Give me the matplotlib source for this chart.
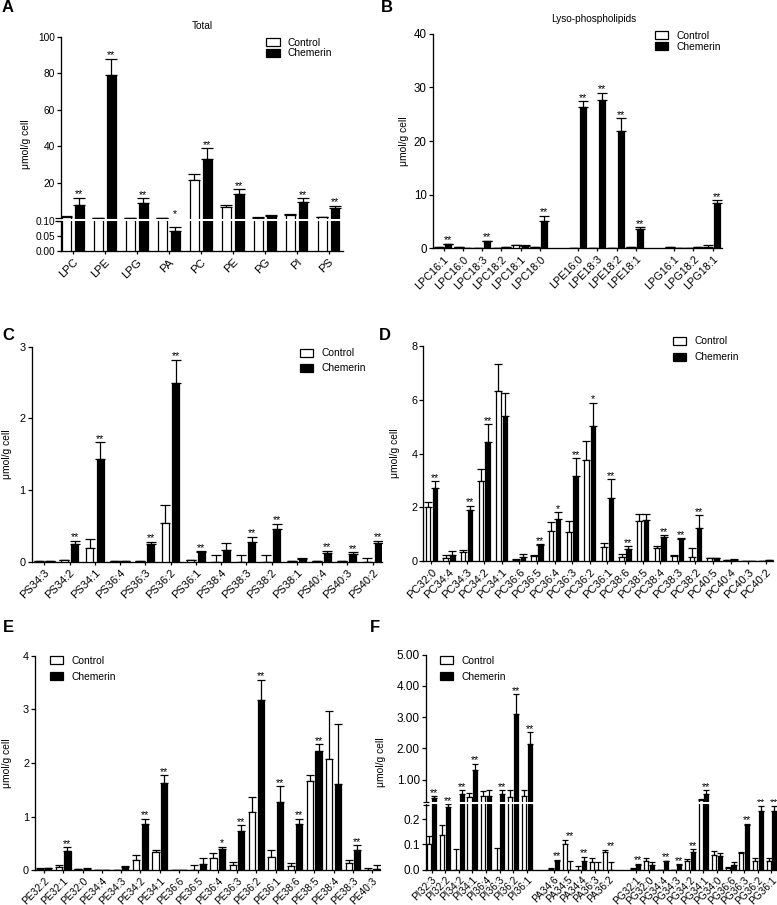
import numpy as np
import matplotlib
matplotlib.use('Agg')
import matplotlib.pyplot as plt

plt.rcParams['font.family'] = ['Liberation Sans', 'DejaVu Sans']
plt.rcParams['font.size'] = 7.2

W, H = 777, 905

# ---------------- data ----------------
a_labels = ['LPC', 'LPE', 'LPG', 'PA', 'PC', 'PE', 'PG', 'PI', 'PS']
a_ctrl = [1.5, 0.6, 0.6, 0.6, 21.3, 6.6, 0.9, 2.4, 1.3]
a_ctrl_err = [0.3, 0.1, 0.1, 0.1, 3.8, 1.2, 0.1, 0.3, 0.2]
a_chem = [7.9, 79.3, 8.85, 0.066, 33.1, 14.1, 1.9, 9.2, 6.4]
a_chem_err = [4.0, 8.7, 2.7, 0.012, 6.0, 2.5, 0.3, 2.2, 1.1]
a_sig = ['**', '**', '**', '*', '**', '**', '', '**', '**']

b_labels = ['LPC16:1', 'LPC16:0', 'LPC18:3', 'LPC18:2', 'LPC18:1', 'LPC18:0', None,
            'LPE16:0', 'LPE18:3', 'LPE18:2', 'LPE18:1', None,
            'LPG16:1', 'LPG18:2', 'LPG18:1']
b_ctrl = [0.15, 0.25, 0.05, 0.1, 0.6, 0.2, None, 0.0, 0.0, 0.0, 0.2, None, 0.15, 0.0, 0.3]
b_ctrl_err = [0.05, 0.05, 0.02, 0.03, 0.1, 0.05, None, 0, 0, 0, 0.05, None, 0.05, 0, 0.3]
b_chem = [0.75, 0.1, 1.3, 0.2, 0.5, 5.1, None, 26.3, 27.6, 21.8, 3.65, None, 0.0, 0.2, 8.4]
b_chem_err = [0.1, 0.03, 0.15, 0.05, 0.1, 1.0, None, 1.1, 1.4, 2.4, 0.25, None, 0, 0.05, 0.6]
b_sig = ['**', '', '**', '', '', '**', None, '**', '**', '**', '**', None, '', '', '**']

c_labels = ['PS34:3', 'PS34:2', 'PS34:1', 'PS36:4', 'PS36:3', 'PS36:2', 'PS36:1',
            'PS38:4', 'PS38:3', 'PS38:2', 'PS38:1', 'PS40:4', 'PS40:3', 'PS40:2']
c_ctrl = [0.005, 0.02, 0.195, 0.01, 0.01, 0.54, 0.02, 0.0, 0.0, 0.0, 0.01, 0.01, 0.01, 0.0]
c_ctrl_err = [0.003, 0.01, 0.12, 0.005, 0.005, 0.25, 0.01, 0.09, 0.088, 0.093, 0.005, 0.005, 0.005, 0.046]
c_chem = [0.005, 0.246, 1.44, 0.005, 0.25, 2.49, 0.13, 0.17, 0.27, 0.45, 0.04, 0.116, 0.107, 0.256]
c_chem_err = [0.003, 0.045, 0.23, 0.003, 0.03, 0.33, 0.014, 0.09, 0.08, 0.08, 0.01, 0.034, 0.028, 0.034]
c_sig = ['', '**', '**', '', '**', '**', '**', '', '**', '**', '', '**', '**', '**']

d_labels = ['PC32:0', 'PC34:4', 'PC34:3', 'PC34:2', 'PC34:1', 'PC36:6', 'PC36:5', 'PC36:4',
            'PC36:3', 'PC36:2', 'PC36:1', 'PC38:6', 'PC38:5', 'PC38:4', 'PC38:3', 'PC38:2',
            'PC40:5', 'PC40:4', 'PC40:3', 'PC40:2']
d_ctrl = [2.01, 0.1, 0.34, 2.97, 6.32, 0.03, 0.2, 1.1, 1.09, 3.74, 0.53, 0.16, 1.48, 0.5,
          0.19, 0.16, 0.11, 0.03, 0.0, 0.0]
d_ctrl_err = [0.19, 0.11, 0.07, 0.45, 1.0, 0.06, 0.04, 0.35, 0.39, 0.71, 0.13, 0.09, 0.26,
              0.07, 0.02, 0.32, 0.01, 0.01, 0, 0]
d_chem = [2.71, 0.24, 1.89, 4.42, 5.4, 0.14, 0.6, 1.55, 3.18, 5.04, 2.34, 0.43, 1.53, 0.91,
          0.82, 1.23, 0.11, 0.05, 0.0, 0.04]
d_chem_err = [0.26, 0.15, 0.17, 0.67, 0.84, 0.12, 0.02, 0.26, 0.65, 0.84, 0.7, 0.12, 0.21,
              0.05, 0.02, 0.48, 0.01, 0.01, 0, 0.01]
d_sig = ['**', '', '**', '**', '', '', '**', '*', '**', '*', '**', '**', '', '**', '**', '**',
         '', '', '', '']

e_labels = ['PE32:2', 'PE32:1', 'PE32:0', 'PE34:4', 'PE34:3', 'PE34:2', 'PE34:1', 'PE36:6',
            'PE36:5', 'PE36:4', 'PE36:3', 'PE36:2', 'PE36:1', 'PE38:6', 'PE38:5', 'PE38:4',
            'PE38:3', 'PE40:3']
e_ctrl = [0.03, 0.07, 0.02, 0.005, 0.005, 0.19, 0.35, 0.0, 0.01, 0.23, 0.09, 1.09, 0.25,
          0.075, 1.66, 2.07, 0.14, 0.0]
e_ctrl_err = [0.01, 0.03, 0.01, 0, 0, 0.1, 0.02, 0, 0.08, 0.09, 0.06, 0.28, 0.13, 0.055,
              0.12, 0.9, 0.06, 0.05]
e_chem = [0.04, 0.36, 0.03, 0.005, 0.07, 0.87, 1.63, 0.0, 0.11, 0.39, 0.73, 3.17, 1.27,
          0.86, 2.22, 1.6, 0.385, 0.03]
e_chem_err = [0.01, 0.07, 0.02, 0, 0.01, 0.09, 0.14, 0, 0.11, 0.05, 0.11, 0.38, 0.3, 0.1,
              0.13, 1.13, 0.085, 0.06]
e_sig = ['', '**', '', '', '', '**', '**', '', '', '*', '**', '**', '**', '**', '**', '',
         '**', '']

f_labels = ['PI32:3', 'PI32:2', 'PI34:2', 'PI34:1', 'PI36:4', 'PI36:3', 'PI36:2', 'PI36:1',
            None, 'PA34:6', 'PA34:5', 'PA34:4', 'PA36:3', 'PA36:2', None,
            'PG32:1', 'PG32:0', 'PG34:4', 'PG34:3', 'PG34:2', 'PG34:1', 'PG34:0', 'PG36:6',
            'PG36:3', 'PG36:2', 'PG36:1']
f_ctrl = [0.10, 0.135, 0.0, 0.44, 0.47, 0.0, 0.45, 0.46, None, 0.003, 0.10, 0.0, 0.03, 0.07,
          None, 0.003, 0.033, 0.0, 0.0, 0.033, 0.33, 0.059, 0.005, 0.066, 0.033, 0.033]
f_ctrl_err = [0.033, 0.04, 0.08, 0.13, 0.16, 0.087, 0.2, 0.22, None, 0.001, 0.018, 0.015,
              0.015, 0.009, None, 0.001, 0.012, 0, 0, 0.009, 0.05, 0.015, 0.004, 0.002,
              0.013, 0.012]
f_chem = [0.40, 0.248, 0.55, 1.32, 0.47, 0.54, 3.10, 2.14, None, 0.035, 0.0, 0.033, 0.0, 0.0,
          None, 0.018, 0.016, 0.033, 0.018, 0.071, 0.55, 0.054, 0.017, 0.175, 0.23, 0.23]
f_chem_err = [0.07, 0.01, 0.1, 0.18, 0.2, 0.12, 0.64, 0.37, None, 0.003, 0.034, 0.017, 0.03,
              0.029, None, 0.004, 0.015, 0.001, 0.003, 0.009, 0.11, 0.013, 0.011, 0.006,
              0.02, 0.02]
f_sig = ['**', '**', '**', '**', '', '**', '**', '**', None, '**', '**', '**', '', '**', None,
         '**', '', '**', '**', '**', '**', '', '', '**', '**', '**']

series_names = ['Control', 'Chemerin']

# ---------------- helpers ----------------
fig = plt.figure(figsize=(W / 100, H / 100), dpi=100)


def break_scale(lo_top, lo_h, gap, hi_slope):
    def fwd(y):
        y = np.asarray(y, dtype=float)
        return np.where(y <= lo_top, y * lo_h / lo_top,
                        lo_h + gap + (y - lo_top) * hi_slope)

    def inv(p):
        p = np.asarray(p, dtype=float)
        return np.where(p <= lo_h, p * lo_top / lo_h,
                        np.where(p < lo_h + gap, lo_top,
                                 lo_top + (p - lo_h - gap) / hi_slope))
    return fwd, inv


def px_axes(l, r, t, b):
    return fig.add_axes([l / W, 1 - b / H, (r - l) / W, (b - t) / H])


def draw_panel(ax, labels, ctrl, ctrl_err, chem, chem_err, sig, xlim, ylim,
               yticks, yticklabels, width, offset, capsize, scale=None,
               xfs=8.0, yfs=7.5, xpad=2.0):
    if scale is not None:
        ax.set_yscale('function', functions=scale)
    idx = [i for i, lab in enumerate(labels) if lab is not None]
    x = np.array(idx, dtype=float)
    c = np.array([ctrl[i] for i in idx], dtype=float)
    ce = np.array([ctrl_err[i] for i in idx], dtype=float)
    h = np.array([chem[i] for i in idx], dtype=float)
    he = np.array([chem_err[i] for i in idx], dtype=float)
    b1 = ax.bar(x - offset, c, width, color='white', edgecolor='black', linewidth=0.9,
                label=series_names[0], zorder=3)
    b2 = ax.bar(x + offset, h, width, color='black', edgecolor='black', linewidth=0.9,
                label=series_names[1], zorder=3)
    ax.errorbar(x - offset, c, yerr=[np.zeros_like(ce), ce], fmt='none', ecolor='black',
                elinewidth=0.9, capsize=capsize, capthick=0.9, zorder=2)
    ax.errorbar(x + offset, h, yerr=[np.zeros_like(he), he], fmt='none', ecolor='black',
                elinewidth=0.9, capsize=capsize, capthick=0.9, zorder=2)
    for k, i in enumerate(idx):
        s = sig[i]
        if s:
            top = max(c[k] + ce[k], h[k] + he[k])
            ax.annotate(s, (x[k] + offset, top), xytext=(0, 0.3), textcoords='offset points',
                        ha='center', va='baseline', fontsize=7.8, zorder=6)
    ax.set_xlim(*xlim)
    ax.set_ylim(*ylim)
    ax.set_xticks(x)
    ax.set_xticklabels([labels[i] for i in idx], rotation=45, ha='right',
                       rotation_mode='anchor', fontsize=xfs)
    ax.set_yticks(yticks)
    ax.set_yticklabels(yticklabels, fontsize=yfs)
    ax.minorticks_off()
    for sp in ['top', 'right']:
        ax.spines[sp].set_visible(False)
    for sp in ['left', 'bottom']:
        ax.spines[sp].set_linewidth(0.95)
    ax.tick_params(axis='y', direction='out', length=2.8, width=0.9, pad=1.5)
    ax.tick_params(axis='x', direction='out', length=2.2, width=0.9, pad=xpad)
    return b1, b2


def add_break(ax, fwd, lo_top, ymax, gap_px, axis_len_px, x0_px, x1_px, axw_px):
    total = float(fwd(ymax))
    yb = (float(fwd(lo_top)) + gap_px / 2) / total
    ax.plot([x0_px / axw_px, 1.0], [yb, yb], transform=ax.transAxes, color='white',
            lw=1.5, zorder=10, clip_on=False, solid_capstyle='butt')
    d = 1.4 / axis_len_px
    for yy in (yb - d, yb + d):
        ax.plot([x0_px / axw_px, x1_px / axw_px], [yy, yy], transform=ax.transAxes,
                color='black', lw=0.9, zorder=11, clip_on=False, solid_capstyle='butt')


def add_legend(ax, handles, box_left_px, row1_px, spacing):
    ax.legend(handles, series_names, loc='upper left',
              bbox_to_anchor=(box_left_px / W, 1 - (row1_px - 5.8) / H),
              bbox_transform=fig.transFigure, frameon=False, fontsize=7.4,
              borderpad=0, borderaxespad=0, handlelength=1.3, handleheight=0.8,
              handletextpad=0.8, labelspacing=spacing)


def ylab(ax, right_px, axl_px, axw_px):
    ax.set_ylabel('μmol/g cell', fontsize=7.4)
    ax.yaxis.set_label_coords((right_px - axl_px) / axw_px, 0.5)


# ---------------- Panel A ----------------
fa, ia = break_scale(0.1, 30.3, 1.5, 1.816)
axA = px_axes(61, 343, 37, 251)
hA = draw_panel(axA, a_labels, a_ctrl, a_ctrl_err, a_chem, a_chem_err, a_sig,
                (-0.367, 8.45), (0, 100), [0, 0.05, 0.1, 20, 40, 60, 80, 100],
                ['0.00', '0.05', '0.10', '20', '40', '60', '80', '100'],
                0.28, 0.2, 4.5, scale=(fa, ia), xfs=8.2, yfs=7.3)
add_break(axA, fa, 0.1, 100, 1.5, 214, -6, 0.5, 282)
add_legend(axA, hA, 266.3, 43.3, 0.08)
ylab(axA, 31, 61, 282)
fig.text(202 / W, 1 - 26 / H, 'Total', ha='center', va='center', fontsize=7.2)

# ---------------- Panel B ----------------
axB = px_axes(432.7, 721.7, 33.7, 248.3)
hB = draw_panel(axB, b_labels, b_ctrl, b_ctrl_err, b_chem, b_chem_err, b_sig,
                (-0.58, 14.47), (0, 40), [0, 10, 20, 30, 40], ['0', '10', '20', '30', '40'],
                0.3, 0.23, 3.5, xfs=7.8, yfs=8.3)
add_legend(axB, hB, 655, 36.7, 0.1)
ylab(axB, 409, 432.7, 289)
fig.text(594 / W, 1 - 19 / H, 'Lyso-phospholipids', ha='center', va='center', fontsize=7.2)

# ---------------- Panel C ----------------
axC = px_axes(31.7, 381.7, 346.7, 561.7)
hC = draw_panel(axC, c_labels, c_ctrl, c_ctrl_err, c_chem, c_chem_err, c_sig,
                (-0.5, 13.36), (0, 3), [0, 1, 2, 3], ['0', '1', '2', '3'],
                0.27, 0.21, 3.5, xfs=8.0, yfs=7.8)
add_legend(axC, hC, 300, 354, 0.5)
ylab(axC, 12, 31.7, 350)

# ---------------- Panel D ----------------
axD = px_axes(423.3, 773, 346, 561)
hD = draw_panel(axD, d_labels, d_ctrl, d_ctrl_err, d_chem, d_chem_err, d_sig,
                (-0.46, 19.41), (0, 8), [0, 2, 4, 6, 8], ['0', '2', '4', '6', '8'],
                0.25, 0.19, 3.0, xfs=8.0, yfs=7.8)
add_legend(axD, hD, 673, 342, 0.6)
ylab(axD, 400, 423.3, 349.7)

# ---------------- Panel E ----------------
axE = px_axes(35, 380, 655.7, 870.3)
hE = draw_panel(axE, e_labels, e_ctrl, e_ctrl_err, e_chem, e_chem_err, e_sig,
                (-0.46, 17.4), (0, 4), [0, 1, 2, 3, 4], ['0', '1', '2', '3', '4'],
                0.32, 0.22, 3.2, xfs=7.3, yfs=7.8, xpad=1.5)
add_legend(axE, hE, 50, 661.7, 0.55)
ylab(axE, 12, 35, 345)

# ---------------- Panel F ----------------
ff, fi = break_scale(0.26, 65.8, 1.2, 31.3)
axF = px_axes(425.7, 776.5, 654.7, 869.5)
hF = draw_panel(axF, f_labels, f_ctrl, f_ctrl_err, f_chem, f_chem_err, f_sig,
                (-0.43, 25.37), (0, 5), [0, 0.1, 0.2, 1, 2, 3, 4, 5],
                ['0.0', '0.1', '0.2', '1.00', '2.00', '3.00', '4.00', '5.00'],
                0.3, 0.21, 2.5, scale=(ff, fi), xfs=7.3, yfs=8.5, xpad=1.5)
add_break(axF, ff, 0.26, 5, 1.2, 214.8, -3, 3, 350.8)
add_legend(axF, hF, 440, 661.7, 0.55)
ylab(axF, 386, 425.7, 350.8)

# ---------------- panel letters ----------------
letter_kw = dict(fontsize=12, fontweight='bold', ha='center', va='center',
                 family=['Liberation Sans Narrow', 'Liberation Sans', 'DejaVu Sans'])
for txt, (lx, ly) in {'A': (8, 8), 'B': (387, 8), 'C': (8, 335), 'D': (385, 335),
                      'E': (8, 628), 'F': (375, 628)}.items():
    fig.text(lx / W, 1 - ly / H, txt, **letter_kw)

fig.savefig('out.png', dpi=100)
